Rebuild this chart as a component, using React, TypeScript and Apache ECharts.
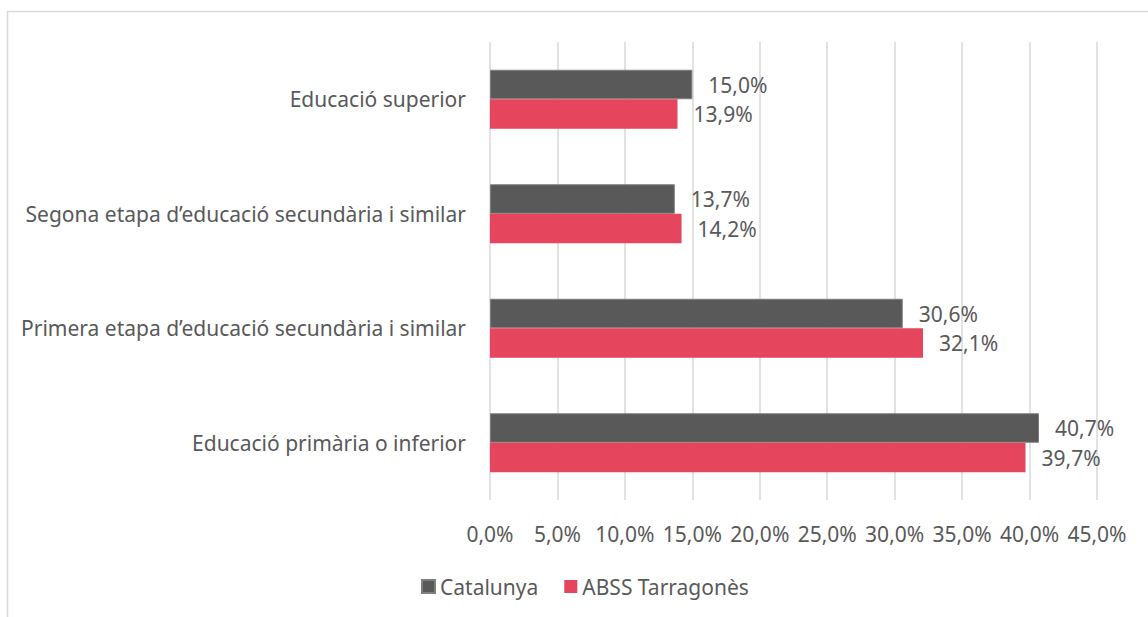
import React, { useEffect, useRef } from "react";
import * as echarts from "echarts";

const categories = [
  "Educació primària o inferior",
  "Primera etapa d’educació secundària i similar",
  "Segona etapa d’educació secundària i similar",
  "Educació superior",
];
const catalunya = [40.7, 30.6, 13.7, 15.0];
const abss = [39.7, 32.1, 14.2, 13.9];
const seriesNames = ["Catalunya", "ABSS Tarragonès"];

const FONT = "'Noto Sans', 'Open Sans', sans-serif";
const TXT = "#595959";
const FS = 21;

const fmt = (v: number) => v.toFixed(1).replace(".", ",") + "%";

export default function App() {
  const ref = useRef<HTMLDivElement>(null);
  useEffect(() => {
    document.body.style.margin = "0";
    const chart = echarts.init(ref.current!, null, { renderer: "svg" });
    chart.setOption({
      animation: false,
      backgroundColor: "#ffffff",
      textStyle: { fontFamily: FONT },
      graphic: [
        {
          type: "rect",
          shape: { x: 7.5, y: 11.5, width: 1200, height: 700 },
          style: { fill: "none", stroke: "#d9d9d9", lineWidth: 1.5 },
          silent: true,
        },
      ],
      legend: {
        data: seriesNames,
        bottom: 15,
        left: 416,
        itemWidth: 13,
        itemHeight: 13,
        itemGap: 26,
        icon: "rect",
        textStyle: { color: TXT, fontSize: FS, fontFamily: FONT },
      },
      grid: { left: 490, right: 51, top: 42, bottom: 117 },
      xAxis: {
        type: "value",
        min: 0,
        max: 45,
        interval: 5,
        axisLine: { show: false },
        axisTick: { show: false },
        splitLine: { lineStyle: { color: "#d9d9d9", width: 1.5 } },
        axisLabel: {
          color: TXT,
          fontSize: FS,
          fontFamily: FONT,
          margin: 23,
          formatter: (v: number) => fmt(v),
        },
      },
      yAxis: {
        type: "category",
        data: categories,
        axisLine: { show: false },
        axisTick: { show: false },
        axisLabel: { color: TXT, fontSize: FS, fontFamily: FONT, margin: 24 },
      },
      series: [
        {
          name: seriesNames[0],
          type: "bar",
          data: catalunya,
          barWidth: 29.5,
          barGap: "0%",
          itemStyle: { color: "#595959", borderColor: "#7f7f7f", borderWidth: 1 },
          label: {
            show: true,
            position: "right",
            distance: 16,
            color: TXT,
            fontSize: FS,
            fontFamily: FONT,
            formatter: (p: any) => fmt(p.value),
          },
        },
        {
          name: seriesNames[1],
          type: "bar",
          data: abss,
          barWidth: 29.5,
          barGap: "0%",
          itemStyle: { color: "#e5455d" },
          label: {
            show: true,
            position: "right",
            distance: 16,
            color: TXT,
            fontSize: FS,
            fontFamily: FONT,
            formatter: (p: any) => fmt(p.value),
          },
        },
      ],
    });
    return () => chart.dispose();
  }, []);
  return <div ref={ref} style={{ width: 1148, height: 617 }} />;
}
